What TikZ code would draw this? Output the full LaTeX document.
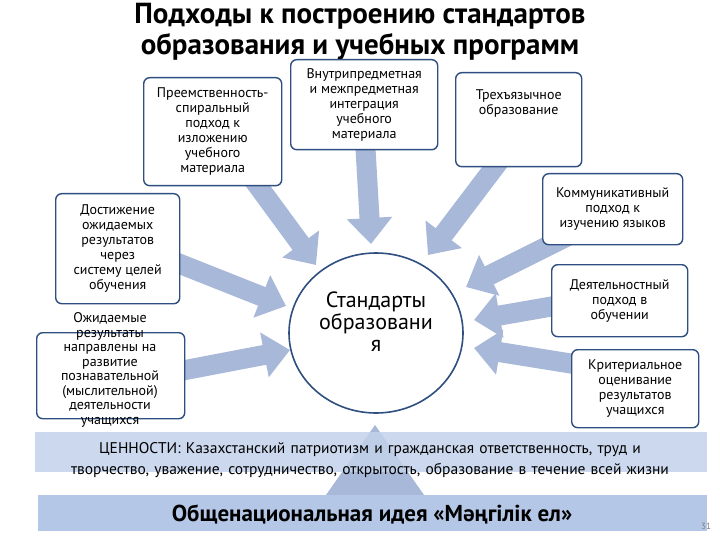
\documentclass[tikz,border=0pt]{standalone}
\usepackage{fontspec}
\setmainfont{PT Sans}
\usetikzlibrary{arrows.meta,shapes.geometric}
\definecolor{arr}{HTML}{A8B8D8}
\definecolor{bord}{HTML}{2F4F80}
\definecolor{band}{HTML}{C3D2EA}
\definecolor{banner}{HTML}{B4C7E7}
\tikzset{
 box/.style={draw=bord,line width=1.4pt,rounded corners=6pt,fill=white,align=center,font=\fontsize{14}{15}\selectfont,inner sep=1pt,anchor=north west},
 bigarrow/.style={draw=arr,line width=20pt,-{Triangle[width=44pt,length=26pt]}},
 txt/.style={align=center,font=\fontsize{14}{14.5}\selectfont}
}
\begin{document}
\begin{tikzpicture}[x=1pt,y=-1pt]
\useasboundingbox (0,0) rectangle (720,540);
\fill[white] (0,0) rectangle (720,540);
\node[font=\fontsize{29}{31}\selectfont\bfseries,align=center] (title) at (360,32) {Подходы к построению стандартов\\образования и учебных программ};
% arrows
\coordinate (s1) at (250,175); \coordinate (c1) at (316,265);
\coordinate (s2) at (365,140); \coordinate (c2) at (371,244);
\coordinate (s3) at (500,160); \coordinate (c3) at (428,255);
\coordinate (s4) at (570,235); \coordinate (c4) at (466,287);
\coordinate (s5) at (560,305); \coordinate (c5) at (474,320);
\coordinate (s6) at (580,365); \coordinate (c6) at (474,348);
\coordinate (s7) at (170,260); \coordinate (c7) at (286,306);
\coordinate (s8) at (175,372); \coordinate (c8) at (290,350);
\foreach \i in {1,...,8} \draw[bigarrow] (s\i) -- (c\i);
% boxes
\node[box,minimum width=138pt,minimum height=108pt] (b1) at (143,77) {Преемственность-\\спиральный\\подход к\\изложению\\учебного\\материала};
\node[box,minimum width=147pt,minimum height=90pt] (b2) at (290,59) {Внутрипредметная\\и межпредметная\\интеграция\\учебного\\материала};
\node[box,minimum width=126pt,minimum height=94pt] (b3) at (455,72) {Трехъязычное\\образование\\[20pt]};
\node[box,minimum width=140pt,minimum height=71pt] (b4) at (542,173) {Коммуникативный\\подход к\\изучению языков};
\node[box,minimum width=136pt,minimum height=72pt] (b5) at (551,264) {Деятельностный\\подход в\\обучении};
\node[box,minimum width=127pt,minimum height=78pt] (b6) at (571,349) {Критериальное\\оценивание\\результатов\\учащихся};
\node[box,minimum width=124pt,minimum height=110pt] (b7) at (55,193) {Достижение\\ожидаемых\\результатов\\через\\систему целей\\обучения};
\node[box,minimum width=148pt,minimum height=86pt] (b8) at (36,332) {};
\node[txt] (t8) at (110,370) {Ожидаемые\\результаты\\направлены на\\развитие\\познавательной\\(мыслительной)\\деятельности\\учащихся};
\node[draw=bord,line width=1.6pt,ellipse,minimum width=174pt,minimum height=160pt] (std) at (376,333) {};
\node[font=\fontsize{22}{22}\selectfont,align=center] (stdt) at (376,322) {Стандарты\\образовани\\я};
% bottom
\fill[arr] (326,495) -- (375,425) -- (424,495) -- cycle;
\fill[band,opacity=0.85] (35,432) rectangle (707,472);
\node[font=\fontsize{15.5}{21}\selectfont,align=center,text width=670pt] (val) at (370,460) {ЦЕННОСТИ: Казахстанский патриотизм и гражданская ответственность, труд и творчество, уважение, сотрудничество, открытость, образование в течение всей жизни};
\fill[banner] (38,495) rectangle (707,531);
\node[font=\fontsize{23}{24}\selectfont\bfseries] (idea) at (372,514) {Общенациональная идея «Мәңгілік ел»};
\node[font=\fontsize{9}{10}\selectfont,text=gray] (pg) at (706,526) {31};
\end{tikzpicture}
\end{document}
